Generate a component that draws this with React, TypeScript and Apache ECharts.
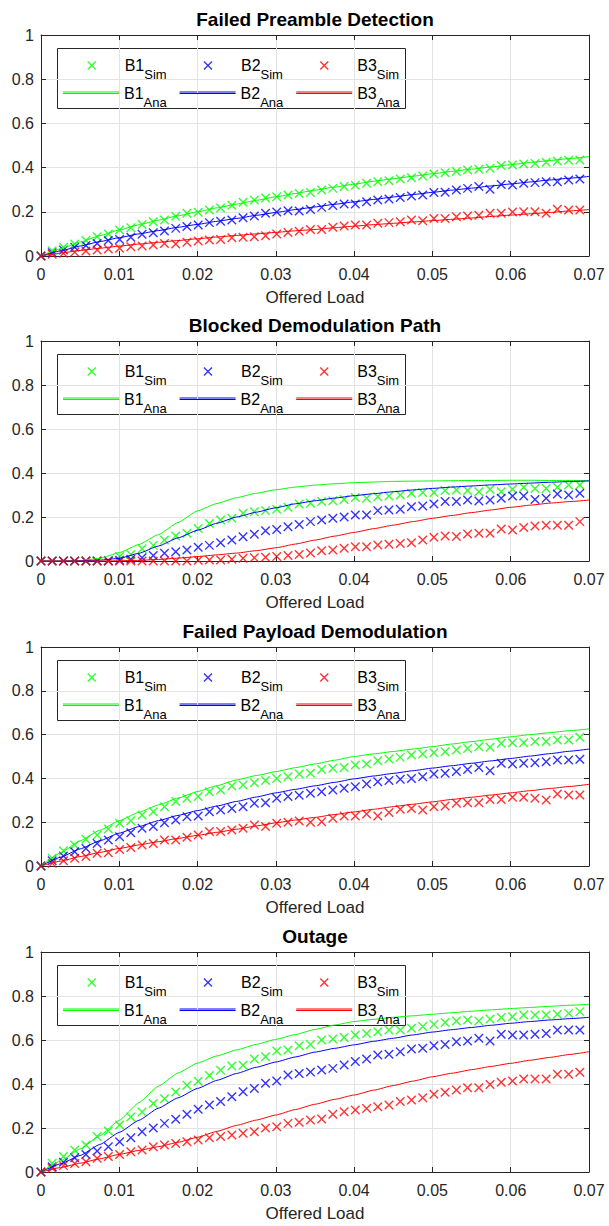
import { useEffect, useRef } from 'react';
import * as echarts from 'echarts';

// ---------- data ----------
const SIM_X = [0, 0.00143, 0.00287, 0.0043, 0.00574, 0.00717, 0.0086, 0.01004, 0.01147, 0.01291, 0.01434, 0.01577, 0.01721, 0.01864, 0.02008, 0.02151, 0.02294, 0.02438, 0.02581, 0.02725, 0.02868, 0.03011, 0.03155, 0.03298, 0.03442, 0.03585, 0.03728, 0.03872, 0.04015, 0.04159, 0.04302, 0.04445, 0.04589, 0.04732, 0.04876, 0.05019, 0.05162, 0.05306, 0.05449, 0.05593, 0.05736, 0.05879, 0.06023, 0.06166, 0.0631, 0.06453, 0.06596, 0.0674, 0.06883];
const ANA_X = [0, 0.0025, 0.005, 0.0075, 0.01, 0.0125, 0.015, 0.0175, 0.02, 0.0225, 0.025, 0.0275, 0.03, 0.0325, 0.035, 0.0375, 0.04, 0.0425, 0.045, 0.0475, 0.05, 0.0525, 0.055, 0.0575, 0.06, 0.0625, 0.065, 0.0675, 0.07];
const X_TICKS = [0, 0.07, 0.01];
const Y_TICKS = [0, 1, 0.2];

const TITLES = ['Failed Preamble Detection', 'Blocked Demodulation Path', 'Failed Payload Demodulation', 'Outage'];
const GROUPS = ['B1', 'B2', 'B3'];
const KINDS = ['Sim', 'Ana'];
const X_LABEL = 'Offered Load';

// Plot 1: Failed Preamble Detection
const P1_SIM_B1 = [0, 0.024, 0.04, 0.054, 0.07, 0.087, 0.1, 0.118, 0.128, 0.143, 0.155, 0.163, 0.18, 0.193, 0.198, 0.208, 0.217, 0.23, 0.243, 0.253, 0.262, 0.268, 0.276, 0.283, 0.287, 0.299, 0.306, 0.314, 0.32, 0.329, 0.336, 0.341, 0.348, 0.354, 0.362, 0.371, 0.377, 0.382, 0.389, 0.392, 0.397, 0.409, 0.412, 0.416, 0.419, 0.424, 0.43, 0.433, 0.434];
const P1_SIM_B2 = [0, 0.015, 0.027, 0.04, 0.047, 0.057, 0.07, 0.075, 0.085, 0.098, 0.105, 0.113, 0.125, 0.133, 0.14, 0.151, 0.157, 0.163, 0.173, 0.181, 0.193, 0.199, 0.205, 0.204, 0.21, 0.22, 0.228, 0.235, 0.235, 0.246, 0.253, 0.258, 0.265, 0.271, 0.276, 0.287, 0.288, 0.299, 0.306, 0.314, 0.302, 0.324, 0.321, 0.329, 0.332, 0.336, 0.336, 0.344, 0.348];
const P1_SIM_B3 = [0, 0.008, 0.012, 0.017, 0.023, 0.027, 0.032, 0.035, 0.042, 0.045, 0.05, 0.057, 0.054, 0.062, 0.068, 0.072, 0.075, 0.083, 0.085, 0.087, 0.092, 0.1, 0.106, 0.112, 0.12, 0.12, 0.13, 0.136, 0.14, 0.14, 0.148, 0.151, 0.155, 0.163, 0.16, 0.17, 0.17, 0.178, 0.181, 0.184, 0.193, 0.193, 0.199, 0.2, 0.2, 0.193, 0.211, 0.208, 0.208];
const P1_ANA_B1 = [0, 0.033, 0.063, 0.092, 0.118, 0.141, 0.162, 0.182, 0.2, 0.218, 0.235, 0.252, 0.268, 0.283, 0.298, 0.312, 0.325, 0.338, 0.35, 0.361, 0.372, 0.383, 0.393, 0.403, 0.413, 0.423, 0.432, 0.441, 0.45];
const P1_ANA_B2 = [0, 0.023, 0.045, 0.065, 0.083, 0.1, 0.115, 0.13, 0.143, 0.157, 0.17, 0.184, 0.197, 0.21, 0.222, 0.234, 0.245, 0.256, 0.267, 0.278, 0.288, 0.298, 0.307, 0.317, 0.326, 0.335, 0.344, 0.352, 0.36];
const P1_ANA_B3 = [0, 0.013, 0.025, 0.035, 0.045, 0.054, 0.062, 0.07, 0.078, 0.086, 0.093, 0.1, 0.107, 0.114, 0.12, 0.128, 0.135, 0.142, 0.148, 0.154, 0.16, 0.166, 0.172, 0.179, 0.185, 0.191, 0.197, 0.204, 0.21];

// Plot 2: Blocked Demodulation Path
const P2_SIM_B1 = [0, 0, 0, 0, 0, 0, 0.002, 0.02, 0.03, 0.056, 0.071, 0.095, 0.114, 0.126, 0.148, 0.17, 0.186, 0.194, 0.217, 0.224, 0.229, 0.235, 0.244, 0.259, 0.262, 0.27, 0.274, 0.28, 0.289, 0.285, 0.292, 0.295, 0.3, 0.308, 0.311, 0.311, 0.32, 0.323, 0.32, 0.315, 0.326, 0.315, 0.326, 0.335, 0.33, 0.33, 0.335, 0.345, 0.345];
const P2_SIM_B2 = [0, 0, 0, 0, 0, 0, 0, 0.003, 0.008, 0.015, 0.025, 0.035, 0.042, 0.05, 0.062, 0.071, 0.083, 0.095, 0.11, 0.122, 0.137, 0.143, 0.156, 0.166, 0.179, 0.186, 0.194, 0.2, 0.209, 0.209, 0.229, 0.232, 0.235, 0.247, 0.25, 0.259, 0.27, 0.27, 0.277, 0.273, 0.277, 0.285, 0.295, 0.295, 0.28, 0.285, 0.305, 0.3, 0.308];
const P2_SIM_B3 = [0, 0, 0, 0, 0, 0, 0, 0, 0, 0, 0, 0, 0, 0, 0.003, 0.005, 0.005, 0.008, 0.012, 0.015, 0.017, 0.02, 0.025, 0.03, 0.036, 0.047, 0.05, 0.058, 0.065, 0.065, 0.073, 0.076, 0.08, 0.083, 0.095, 0.108, 0.114, 0.111, 0.123, 0.126, 0.126, 0.145, 0.141, 0.152, 0.159, 0.162, 0.162, 0.162, 0.179];
const P2_ANA_B1 = [0, 0, 0.002, 0.012, 0.038, 0.075, 0.12, 0.175, 0.228, 0.262, 0.288, 0.308, 0.324, 0.336, 0.345, 0.351, 0.356, 0.359, 0.362, 0.363, 0.364, 0.365, 0.366, 0.366, 0.367, 0.367, 0.366, 0.366, 0.365];
const P2_ANA_B2 = [0, 0, 0.001, 0.004, 0.012, 0.035, 0.068, 0.105, 0.14, 0.172, 0.2, 0.222, 0.242, 0.26, 0.274, 0.286, 0.297, 0.306, 0.315, 0.323, 0.33, 0.336, 0.341, 0.346, 0.35, 0.354, 0.358, 0.361, 0.364];
const P2_ANA_B3 = [0, 0, 0, 0, 0.001, 0.003, 0.007, 0.013, 0.02, 0.028, 0.036, 0.047, 0.06, 0.077, 0.095, 0.113, 0.13, 0.147, 0.163, 0.179, 0.194, 0.207, 0.22, 0.232, 0.244, 0.254, 0.263, 0.27, 0.277];

// Plot 3: Failed Payload Demodulation
const P3_SIM_B1 = [0, 0.035, 0.07, 0.096, 0.122, 0.142, 0.169, 0.195, 0.207, 0.233, 0.248, 0.271, 0.294, 0.309, 0.317, 0.339, 0.347, 0.365, 0.37, 0.38, 0.39, 0.4, 0.408, 0.42, 0.423, 0.441, 0.446, 0.45, 0.461, 0.466, 0.481, 0.489, 0.496, 0.507, 0.511, 0.517, 0.522, 0.53, 0.537, 0.545, 0.542, 0.56, 0.563, 0.563, 0.568, 0.568, 0.575, 0.575, 0.588];
const P3_SIM_B2 = [0, 0.024, 0.046, 0.065, 0.08, 0.103, 0.119, 0.134, 0.152, 0.172, 0.18, 0.198, 0.21, 0.225, 0.228, 0.248, 0.256, 0.263, 0.271, 0.286, 0.289, 0.309, 0.317, 0.323, 0.332, 0.339, 0.347, 0.355, 0.362, 0.374, 0.385, 0.39, 0.396, 0.4, 0.408, 0.42, 0.423, 0.431, 0.441, 0.45, 0.435, 0.469, 0.466, 0.469, 0.472, 0.476, 0.484, 0.484, 0.487];
const P3_SIM_B3 = [0, 0.012, 0.024, 0.035, 0.043, 0.058, 0.061, 0.075, 0.085, 0.096, 0.103, 0.119, 0.119, 0.131, 0.142, 0.157, 0.157, 0.164, 0.172, 0.187, 0.18, 0.195, 0.2, 0.205, 0.2, 0.202, 0.218, 0.228, 0.228, 0.237, 0.228, 0.244, 0.259, 0.263, 0.256, 0.271, 0.274, 0.286, 0.289, 0.289, 0.304, 0.304, 0.314, 0.314, 0.309, 0.301, 0.329, 0.324, 0.324];
const P3_ANA_B1 = [0, 0.06, 0.115, 0.163, 0.207, 0.245, 0.279, 0.31, 0.34, 0.367, 0.393, 0.413, 0.431, 0.449, 0.466, 0.483, 0.5, 0.512, 0.523, 0.534, 0.545, 0.557, 0.568, 0.579, 0.59, 0.6, 0.609, 0.618, 0.626];
const P3_ANA_B2 = [0, 0.04, 0.078, 0.115, 0.15, 0.18, 0.207, 0.231, 0.253, 0.274, 0.295, 0.315, 0.334, 0.35, 0.366, 0.382, 0.398, 0.411, 0.423, 0.435, 0.447, 0.458, 0.469, 0.48, 0.491, 0.502, 0.513, 0.524, 0.534];
const P3_ANA_B3 = [0, 0.022, 0.043, 0.062, 0.08, 0.096, 0.111, 0.126, 0.14, 0.154, 0.168, 0.183, 0.197, 0.21, 0.222, 0.235, 0.247, 0.259, 0.271, 0.282, 0.293, 0.304, 0.314, 0.324, 0.334, 0.344, 0.354, 0.363, 0.373];

// Plot 4: Outage
const P4_SIM_B1 = [0, 0.04, 0.07, 0.1, 0.123, 0.161, 0.186, 0.214, 0.25, 0.273, 0.311, 0.333, 0.364, 0.394, 0.412, 0.439, 0.462, 0.482, 0.485, 0.514, 0.524, 0.55, 0.555, 0.574, 0.58, 0.6, 0.605, 0.611, 0.623, 0.63, 0.638, 0.645, 0.645, 0.653, 0.661, 0.671, 0.68, 0.686, 0.691, 0.686, 0.695, 0.702, 0.706, 0.714, 0.714, 0.714, 0.717, 0.721, 0.729];
const P4_SIM_B2 = [0, 0.024, 0.044, 0.065, 0.08, 0.095, 0.115, 0.138, 0.156, 0.183, 0.2, 0.221, 0.24, 0.262, 0.285, 0.305, 0.32, 0.342, 0.365, 0.38, 0.403, 0.414, 0.441, 0.448, 0.455, 0.464, 0.471, 0.486, 0.502, 0.514, 0.532, 0.535, 0.547, 0.559, 0.562, 0.574, 0.58, 0.592, 0.595, 0.608, 0.595, 0.626, 0.623, 0.623, 0.626, 0.63, 0.645, 0.645, 0.645];
const P4_SIM_B3 = [0, 0.017, 0.029, 0.039, 0.047, 0.062, 0.07, 0.08, 0.092, 0.1, 0.115, 0.123, 0.13, 0.138, 0.145, 0.156, 0.161, 0.168, 0.176, 0.183, 0.2, 0.206, 0.221, 0.226, 0.236, 0.241, 0.262, 0.274, 0.282, 0.289, 0.297, 0.305, 0.32, 0.327, 0.338, 0.353, 0.362, 0.373, 0.383, 0.383, 0.398, 0.408, 0.414, 0.423, 0.423, 0.423, 0.444, 0.444, 0.453];
const P4_ANA_B1 = [0, 0.05, 0.105, 0.165, 0.235, 0.315, 0.39, 0.45, 0.495, 0.528, 0.555, 0.58, 0.603, 0.625, 0.648, 0.668, 0.684, 0.694, 0.703, 0.71, 0.717, 0.724, 0.731, 0.737, 0.743, 0.748, 0.753, 0.758, 0.762];
const P4_ANA_B2 = [0, 0.037, 0.075, 0.125, 0.18, 0.235, 0.29, 0.337, 0.38, 0.417, 0.448, 0.476, 0.5, 0.523, 0.545, 0.562, 0.578, 0.594, 0.608, 0.623, 0.636, 0.647, 0.657, 0.667, 0.676, 0.684, 0.691, 0.697, 0.703];
const P4_ANA_B3 = [0, 0.02, 0.04, 0.06, 0.08, 0.098, 0.115, 0.135, 0.158, 0.185, 0.212, 0.236, 0.259, 0.284, 0.308, 0.33, 0.35, 0.372, 0.393, 0.413, 0.433, 0.449, 0.465, 0.48, 0.494, 0.508, 0.521, 0.534, 0.547];

const SIM = [
  [P1_SIM_B1, P1_SIM_B2, P1_SIM_B3],
  [P2_SIM_B1, P2_SIM_B2, P2_SIM_B3],
  [P3_SIM_B1, P3_SIM_B2, P3_SIM_B3],
  [P4_SIM_B1, P4_SIM_B2, P4_SIM_B3],
];
const ANA = [
  [P1_ANA_B1, P1_ANA_B2, P1_ANA_B3],
  [P2_ANA_B1, P2_ANA_B2, P2_ANA_B3],
  [P3_ANA_B1, P3_ANA_B2, P3_ANA_B3],
  [P4_ANA_B1, P4_ANA_B2, P4_ANA_B3],
];

// ---------- style / layout ----------
const COLORS = ['#00ff00', '#0000ff', '#ff0000'];
const FONT = '"Liberation Sans", Arial, Helvetica, sans-serif';
const AXIS_COLOR = '#262626';
const GRID_COLOR = '#e3e3e3';
const GRID_LEFT = 41;
const GRID_WIDTH = 548;
const GRID_TOPS = [35, 341, 647, 952];
const GRID_HEIGHTS = [221, 220, 219, 220];
const X_MARK = 'path://M0,0L10,10M10,0L0,10';
const LEGEND_LINE_X = [63, 179.6, 296.2];
const LEGEND_LINE_W = 56;

function buildOption() {
  const grid: any[] = [];
  const xAxis: any[] = [];
  const yAxis: any[] = [];
  const series: any[] = [];
  const legend: any[] = [];
  const title: any[] = [];
  const frames: any[] = [];
  const samples: any[] = [];

  const sub = { fontSize: 13, lineHeight: 10, padding: [18, 0, 0, 0], width: 24, color: '#000', fontFamily: FONT };
  const richAna = {
    m: { fontSize: 16, lineHeight: 10, color: '#000', fontFamily: FONT },
    s: sub,
  };
  const richSim = {
    m: { fontSize: 16, lineHeight: 10, padding: [0, 0, 0, 24], color: '#000', fontFamily: FONT },
    s: sub,
  };
  // series names are "B1|Sim|0" (unique per plot); legend shows B1 with subscript Sim
  const fmt = (name: string) => {
    const [b, s] = name.split('|');
    return `{m|${b}}{s|${s}}`;
  };
  const sname = (g: string, kind: string, p: number) => `${g}|${kind}|${p}`;

  TITLES.forEach((t, p) => {
    const top = GRID_TOPS[p];
    const height = GRID_HEIGHTS[p];
    grid.push({ left: GRID_LEFT, width: GRID_WIDTH, top, height, show: false });

    const xBase = {
      gridIndex: p, type: 'value', min: X_TICKS[0], max: X_TICKS[1], interval: X_TICKS[2],
      axisLine: { show: true, onZero: false, lineStyle: { color: AXIS_COLOR, width: 1 } },
      axisTick: { show: true, inside: true, length: 5, lineStyle: { color: AXIS_COLOR } },
    };
    xAxis.push({
      ...xBase, position: 'bottom',
      axisLabel: { fontSize: 16, color: AXIS_COLOR, margin: 10, fontFamily: FONT },
      splitLine: { show: true, lineStyle: { color: GRID_COLOR, width: 1 } },
      name: X_LABEL, nameLocation: 'middle', nameGap: 33,
      nameTextStyle: { fontSize: 17, color: AXIS_COLOR, fontFamily: FONT },
    });
    xAxis.push({ ...xBase, position: 'top', axisLabel: { show: false }, splitLine: { show: false } });

    const yBase = {
      gridIndex: p, type: 'value', min: Y_TICKS[0], max: Y_TICKS[1], interval: Y_TICKS[2],
      axisLine: { show: true, onZero: false, lineStyle: { color: AXIS_COLOR, width: 1 } },
      axisTick: { show: true, inside: true, length: 5, lineStyle: { color: AXIS_COLOR } },
    };
    yAxis.push({
      ...yBase, position: 'left',
      axisLabel: { fontSize: 16, color: AXIS_COLOR, margin: 7, fontFamily: FONT },
      splitLine: { show: true, lineStyle: { color: GRID_COLOR, width: 1 } },
    });
    yAxis.push({ ...yBase, position: 'right', axisLabel: { show: false }, splitLine: { show: false } });

    GROUPS.forEach((g, k) => {
      series.push({
        type: 'scatter', name: sname(g, KINDS[0], p), xAxisIndex: 2 * p, yAxisIndex: 2 * p,
        data: SIM_X.map((x, i) => [x, SIM[p][k][i]]),
        symbol: X_MARK, symbolSize: 8.5, silent: true,
        itemStyle: { color: COLORS[k], borderColor: COLORS[k], borderWidth: 1.4 },
      });
    });
    GROUPS.forEach((g, k) => {
      series.push({
        type: 'line', name: sname(g, KINDS[1], p), xAxisIndex: 2 * p, yAxisIndex: 2 * p,
        data: ANA_X.map((x, i) => [x, ANA[p][k][i]]),
        symbol: 'none', showSymbol: false, silent: true, smooth: 0.15, smoothMonotone: 'x',
        color: COLORS[k],
        lineStyle: { color: COLORS[k], width: 1 },
        itemStyle: { color: COLORS[k] },
      });
    });

    title.push({
      text: t, left: GRID_LEFT + GRID_WIDTH / 2, top: top - 25, textAlign: 'center', padding: 0,
      textStyle: { fontSize: 19, fontWeight: 'bold', color: '#000', fontFamily: FONT },
    });

    // legend frame
    frames.push({
      type: 'rect', id: `frame${p}`,
      shape: { x: 57.5, y: top + 13.5, width: 348, height: 60 },
      style: { fill: '#ffffff', stroke: AXIS_COLOR, lineWidth: 1 },
    });
    // line samples of the analytical entries (thin filled bars over the legend icon slot)
    GROUPS.forEach((g, k) => {
      samples.push({
        type: 'rect', id: `sample${p}_${k}`,
        shape: { x: LEGEND_LINE_X[k], y: top + 56.5, width: LEGEND_LINE_W, height: 1 },
        style: { fill: COLORS[k], lineWidth: 0 },
      });
    });

    // row 1: simulation markers
    legend.push({
      data: GROUPS.map((g) => ({ name: sname(g, KINDS[0], p), icon: X_MARK })),
      left: 87, top: top + 15, orient: 'horizontal', padding: 0,
      itemWidth: 8, itemHeight: 8, itemGap: 35, selectedMode: false,
      itemStyle: { borderWidth: 1.4 },
      formatter: fmt, textStyle: { rich: richSim, fontFamily: FONT },
      z: 5,
    });
    // row 2: analytical entries
    legend.push({
      data: GROUPS.map((g, k) => ({
        name: sname(g, KINDS[1], p), icon: 'rect',
        itemStyle: { color: COLORS[k], borderWidth: 0 },
      })),
      left: 63, top: top + 43, orient: 'horizontal', padding: 0,
      itemWidth: LEGEND_LINE_W, itemHeight: 1, itemGap: 12, selectedMode: false,
      itemStyle: { borderWidth: 0 },
      formatter: fmt, textStyle: { rich: richAna, fontFamily: FONT },
      z: 5,
    });
  });

  // trailing invisible spacers (kept off-canvas)
  const spacers = GROUPS.map((g, k) => ({
    type: 'rect', id: `spacer${k}`,
    shape: { x: -50, y: -50, width: 1, height: 1 },
    style: { fill: 'rgba(255,255,255,0)' },
  }));

  const graphic = [
    { type: 'group', id: 'frames', z: 3, children: frames },
    { type: 'group', id: 'samples', z: 10, children: samples },
    { type: 'group', id: 'spacers', z: 10, children: spacers },
  ];

  return { animation: false, backgroundColor: '#ffffff', grid, xAxis, yAxis, series, legend, title, graphic };
}

export default function App() {
  const ref = useRef<HTMLDivElement>(null);
  useEffect(() => {
    if (!ref.current) return;
    const chart = echarts.init(ref.current, undefined, { renderer: 'svg' });
    chart.setOption(buildOption() as any);
    return () => chart.dispose();
  }, []);
  return (
    <div
      ref={ref}
      style={{ position: 'absolute', left: 0, top: 0, width: 609, height: 1226, background: '#fff' }}
    />
  );
}
